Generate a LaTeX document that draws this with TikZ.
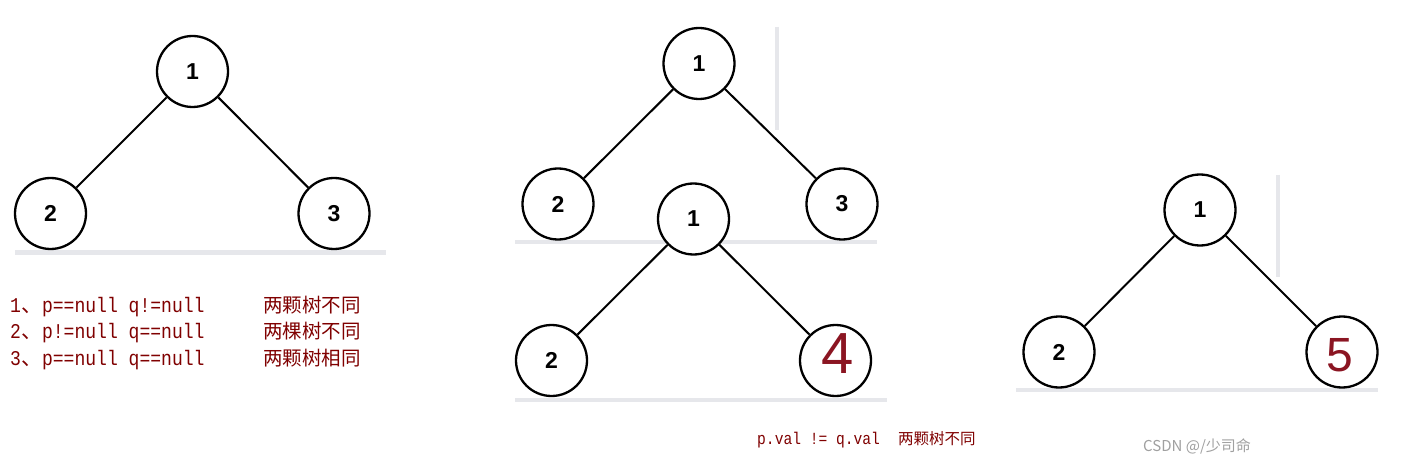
\documentclass[tikz,border=0pt]{standalone}
\usepackage{fontspec}
\setmainfont{Liberation Sans}
\newfontfamily\cjk{Noto Sans CJK SC}
\newfontfamily\mono[FakeStretch=0.86]{Liberation Mono}
\definecolor{dred}{HTML}{800000}
\definecolor{hand}{HTML}{8B1522}
\definecolor{rulegray}{HTML}{E6E7EB}
\definecolor{wm}{HTML}{A0A0A0}
\begin{document}
\begin{tikzpicture}[x=1pt,y=-1pt,
  tn/.style={circle, draw=black, line width=2.3pt, fill=white, minimum size=71pt, inner sep=0pt,
    font=\fontsize{23}{23}\selectfont\bfseries},
  edge/.style={line width=2pt},
  sepline/.style={rulegray, line width=4pt},
  handnum/.style={text=hand, inner sep=0pt},
  codetxt/.style={text=dred, anchor=base west, inner sep=0pt, font=\fontsize{21}{21}\mono},
  cntxt/.style={text=dred, anchor=base west, inner sep=0pt, font=\fontsize{19.5}{20}\cjk},
  smallcode/.style={text=dred, anchor=base west, inner sep=0pt, font=\fontsize{17}{17}\mono},
  smallcn/.style={text=dred, anchor=base west, inner sep=0pt, font=\fontsize{15.5}{16}\cjk},
]
\useasboundingbox[fill=white] (0,0) rectangle (1427,465);

% separator lines (behind)
\coordinate (s1a) at (15,252.5);   \coordinate (s1b) at (386,252.5);
\coordinate (s2a) at (515,242.5);  \coordinate (s2b) at (877,242.5);
\coordinate (s3a) at (515,399.5);  \coordinate (s3b) at (887,399.5);
\coordinate (s4a) at (1016,390);   \coordinate (s4b) at (1378,390);
\coordinate (v2a) at (777,27);     \coordinate (v2b) at (777,130);
\coordinate (v4a) at (1278,175);   \coordinate (v4b) at (1278,277);
\draw[sepline] (s1a) -- (s1b);
\draw[sepline] (s2a) -- (s2b);
\draw[sepline] (s3a) -- (s3b);
\draw[sepline] (s4a) -- (s4b);
\draw[sepline] (v2a) -- (v2b);
\draw[sepline] (v4a) -- (v4b);

% tree 1
\node[tn] (a1) at (192.5,71.5) {1};
\node[tn] (a2) at (50.5,213.5) {2};
\node[tn] (a3) at (334,213.5) {3};
\draw[edge] (a1) -- (a2);
\draw[edge] (a1) -- (a3);

% tree 2
\node[tn] (b1) at (699,63.5) {1};
\node[tn] (b2) at (558,204) {2};
\node[tn] (b3) at (842,204) {3};
\draw[edge] (b1) -- (b2);
\draw[edge] (b1) -- (b3);

% tree 3
\node[tn] (c1) at (693.5,219) {1};
\node[tn] (c2) at (551.5,360.5) {2};
\node[tn] (c4) at (835.5,360.5) {};
\node[handnum, font=\fontsize{58}{58}\selectfont] (h4) at (838,354) {4};
\draw[edge] (c1) -- (c2);
\draw[edge] (c1) -- (c4);

% tree 4
\node[tn] (d1) at (1200,210) {1};
\node[tn] (d2) at (1059,352) {2};
\node[tn] (d5) at (1342,352) {};
\node[handnum, font=\fontsize{48}{48}\selectfont] (h5) at (1340,355) {5};
\draw[edge] (d1) -- (d2);
\draw[edge] (d1) -- (d5);

% left text
\node[codetxt] (l1) at (10,312) {1{\cjk 、}p==null q!=null};
\node[codetxt] (l2) at (10,338) {2{\cjk 、}p!=null q==null};
\node[codetxt] (l3) at (10,365) {3{\cjk 、}p==null q==null};
\node[cntxt] (r1) at (263,312) {两颗树不同};
\node[cntxt] (r2) at (263,338) {两棵树不同};
\node[cntxt] (r3) at (263,365) {两颗树相同};

% bottom text
\node[smallcode] (b) at (757,444) {p.val != q.val};
\node[smallcn] (bc) at (898,444) {两颗树不同};

% watermark
\node[text=wm, anchor=base west, inner sep=0pt, font=\fontsize{15}{15}\cjk] (w) at (1143,451) {CSDN @/少司命};
\end{tikzpicture}
\end{document}
